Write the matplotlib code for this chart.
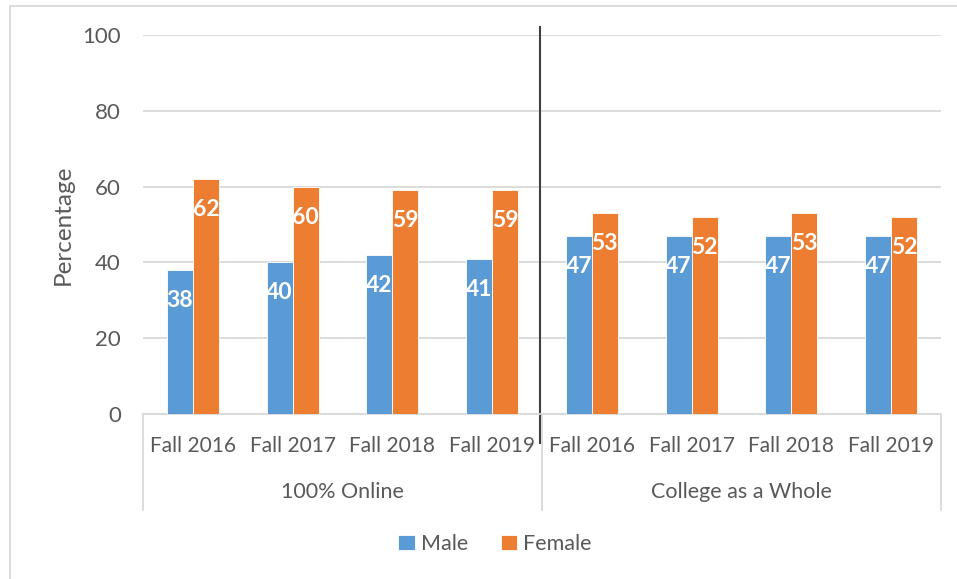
import matplotlib
matplotlib.use("Agg")
import matplotlib.pyplot as plt
from matplotlib.lines import Line2D
import numpy as np

# data
groups = ["100% Online", "College as a Whole"]
terms = ["Fall 2016", "Fall 2017", "Fall 2018", "Fall 2019"]
male = [38, 40, 42, 41, 47, 47, 47, 47]
female = [62, 60, 59, 59, 53, 52, 53, 52]

BLUE = "#5B9BD5"
ORANGE = "#ED7D31"
TXT = "#595959"
GRID = "#D9D9D9"

plt.rcParams["font.family"] = ["Lato", "DejaVu Sans"]

W, H = 957, 579
fig = plt.figure(figsize=(W / 100, H / 100), dpi=100)

def fx(px):
    return px / W

def fy(py):
    return 1 - py / H

ax = fig.add_axes([fx(143), fy(414), fx(941) - fx(143), fy(35) - fy(414)])

x = np.arange(len(male))
bw = 0.26
b1 = ax.bar(x - bw / 2, male, bw, color=BLUE, edgecolor="white", linewidth=0.6, label="Male", zorder=3)
b2 = ax.bar(x + bw / 2, female, bw, color=ORANGE, edgecolor="white", linewidth=0.6, label="Female", zorder=3)

# data labels, white bold near top of bar
for bars in (b1, b2):
    for r in bars:
        ax.annotate(f"{r.get_height():.0f}", (r.get_x() + r.get_width() / 2, r.get_height()),
                    xytext=(0, -22), textcoords="offset points", ha="center", va="center",
                    color="white", fontsize=16.5, fontweight="bold", zorder=4)

ax.set_xlim(-0.5, len(male) - 0.5)
ax.set_ylim(0, 100)
ax.set_yticks(range(0, 101, 20))
ax.yaxis.grid(True, color=GRID, linewidth=1.3, zorder=0)
ax.set_axisbelow(True)
for s in ["top", "right", "left"]:
    ax.spines[s].set_visible(False)
ax.spines["bottom"].set_color(GRID)
ax.spines["bottom"].set_linewidth(1.3)
ax.tick_params(axis="y", length=0, labelsize=16, labelcolor=TXT, pad=16)
ax.tick_params(axis="x", length=0, labelsize=15, labelcolor=TXT, pad=16)
ax.set_xticks(x)
ax.set_xticklabels(terms * len(groups))
ax.set_ylabel("Percentage", fontsize=17.5, color=TXT, labelpad=6)

# group separators below axis
for gx in [-0.5, 3.5, 7.5]:
    ax.add_line(Line2D([gx, gx], [0, -25.3], color=GRID, linewidth=1.3, clip_on=False))
for i, g in enumerate(groups):
    ax.text(i * 4 + 1.5, -20.5, g, ha="center", va="center", fontsize=15.5, color=TXT)

# black vertical divider
ax.add_line(Line2D([3.48, 3.48], [102.2, -7.6], color="#404040", linewidth=1.5, clip_on=False))

# legend
fig.legend(handles=[b1, b2], labels=["Male", "Female"], loc="center", bbox_to_anchor=(fx(495), fy(544)),
           ncol=2, frameon=False, fontsize=15.5, labelcolor=TXT, handlelength=0.75, handleheight=0.75,
           handletextpad=0.3, columnspacing=1.5)

# outer chart border (top and left visible)
fig.add_artist(Line2D([fx(10), fx(10)], [fy(6), fy(579)], color=GRID, linewidth=1.3, transform=fig.transFigure))
fig.add_artist(Line2D([fx(10), fx(957)], [fy(6), fy(6)], color=GRID, linewidth=1.3, transform=fig.transFigure))

fig.savefig("out.png", dpi=100)
